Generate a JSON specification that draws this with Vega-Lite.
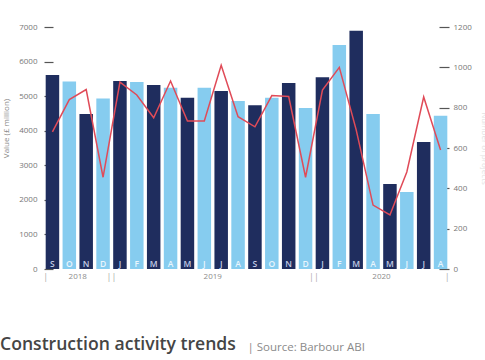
{
  "$schema": "https://vega.github.io/schema/vega-lite/v6.json",
  "width": 405,
  "height": 242,
  "autosize": {"type": "none"},
  "padding": {"left": 44, "top": 27, "right": 36, "bottom": 91},
  "background": "white",
  "config": {
    "view": {"stroke": null},
    "font": "Open Sans",
    "axisX": {
      "labelAngle": 0,
      "labelPadding": -10,
      "labelFontSize": 8.5,
      "labelFontWeight": 600,
      "labelOverlap": false,
      "domain": false,
      "ticks": false,
      "tickSize": 0,
      "grid": false,
      "titleX": 203,
      "titleY": 81,
      "titleAlign": "left",
      "titleAnchor": "start",
      "titleBaseline": "alphabetic",
      "titleFontSize": 11.5,
      "titleFontWeight": "normal",
      "titleColor": "#8a8a8a"
    },
    "axisLeft": {
      "labelOverlap": false,
      "offset": -9,
      "tickSize": 9,
      "tickColor": "#555",
      "tickWidth": 1.2,
      "domain": false,
      "grid": false,
      "labelFontSize": 8,
      "labelColor": "#777",
      "labelPadding": 7,
      "titleFontSize": 8,
      "titleFontWeight": "normal",
      "titleColor": "#888",
      "titleX": -43,
      "titleY": 101
    }
  },
  "title": {
    "text": "Construction activity trends",
    "orient": "bottom",
    "anchor": "start",
    "fontSize": 17.6,
    "fontWeight": 600,
    "color": "#454545",
    "font": "Open Sans",
    "baseline": "alphabetic",
    "offset": -3,
    "dx": -2
  },
  "datasets": {
    "main": [
      {"m": "2018-09", "value": 5610, "projects": 680},
      {"m": "2018-10", "value": 5420, "projects": 840},
      {"m": "2018-11", "value": 4480, "projects": 890},
      {"m": "2018-12", "value": 4930, "projects": 455},
      {"m": "2019-01", "value": 5440, "projects": 927},
      {"m": "2019-02", "value": 5410, "projects": 863},
      {"m": "2019-03", "value": 5320, "projects": 750},
      {"m": "2019-04", "value": 5240, "projects": 932},
      {"m": "2019-05", "value": 4950, "projects": 734},
      {"m": "2019-06", "value": 5240, "projects": 734},
      {"m": "2019-07", "value": 5150, "projects": 1010},
      {"m": "2019-08", "value": 4860, "projects": 755},
      {"m": "2019-09", "value": 4740, "projects": 705},
      {"m": "2019-10", "value": 4950, "projects": 860},
      {"m": "2019-11", "value": 5380, "projects": 855},
      {"m": "2019-12", "value": 4660, "projects": 455},
      {"m": "2020-01", "value": 5550, "projects": 887},
      {"m": "2020-02", "value": 6480, "projects": 1000},
      {"m": "2020-03", "value": 6890, "projects": 690},
      {"m": "2020-04", "value": 4480, "projects": 317},
      {"m": "2020-05", "value": 2460, "projects": 268},
      {"m": "2020-06", "value": 2230, "projects": 481},
      {"m": "2020-07", "value": 3670, "projects": 853},
      {"m": "2020-08", "value": 4430, "projects": 590}
    ],
    "years": [
      {"m": "2018-10", "label": "2018"},
      {"m": "2019-06", "label": "2019"},
      {"m": "2020-04", "label": "2020"}
    ],
    "sepStart": [{"m": "2018-09"}],
    "sepMid": [{"m": "2019-01"}, {"m": "2020-01"}],
    "sepEnd": [{"m": "2020-08"}]
  },
  "layer": [
    {
      "layer": [
        {
          "data": {"name": "main"},
          "mark": {"type": "bar"},
          "encoding": {
            "x": {
              "field": "m",
              "type": "ordinal",
              "scale": {"paddingInner": 0.2, "paddingOuter": 0.1},
              "axis": {
                "labelExpr": "['J','F','M','A','M','J','J','A','S','O','N','D'][parseInt(substring(datum.value,5,7))-1]",
                "labelColor": {"condition": {"test": "parseInt(substring(datum.value,5,7)) % 2 == 1", "value": "#c3cce6"}, "value": "#eaf6fd"},
                "zindex": 2,
                "title": "|  Source: Barbour ABI"
              }
            },
            "y": {
              "field": "value",
              "type": "quantitative",
              "scale": {"domain": [0, 7000], "nice": false},
              "axis": {
                "values": [0, 1000, 2000, 3000, 4000, 5000, 6000, 7000],
                "format": "d",
                "title": "Value (£ million)"
              }
            },
            "color": {
              "condition": {"test": "parseInt(substring(datum.m,5,7)) % 2 == 1", "value": "#1f2d5e"},
              "value": "#86ccef"
            }
          }
        },
        {
          "data": {"name": "years"},
          "mark": {"type": "text", "fontSize": 8, "color": "#8c8c8c", "baseline": "middle", "dy": 8},
          "encoding": {
            "x": {
              "field": "m",
              "type": "ordinal",
              "bandPosition": 1.125,
              "axis": {
                "labelExpr": "['J','F','M','A','M','J','J','A','S','O','N','D'][parseInt(substring(datum.value,5,7))-1]",
                "labelColor": {"condition": {"test": "parseInt(substring(datum.value,5,7)) % 2 == 1", "value": "#c3cce6"}, "value": "#eaf6fd"},
                "zindex": 2,
                "title": "|  Source: Barbour ABI"
              }
            },
            "y": {
              "datum": 0,
              "type": "quantitative",
              "axis": {
                "values": [0, 1000, 2000, 3000, 4000, 5000, 6000, 7000],
                "format": "d",
                "title": "Value (£ million)"
              }
            },
            "text": {"field": "label"}
          }
        },
        {
          "data": {"name": "sepStart"},
          "mark": {"type": "text", "fontSize": 9, "color": "#aaaaaa", "baseline": "middle", "dy": 8, "text": "|"},
          "encoding": {
            "x": {
              "field": "m",
              "type": "ordinal",
              "bandPosition": 0,
              "axis": {
                "labelExpr": "['J','F','M','A','M','J','J','A','S','O','N','D'][parseInt(substring(datum.value,5,7))-1]",
                "labelColor": {"condition": {"test": "parseInt(substring(datum.value,5,7)) % 2 == 1", "value": "#c3cce6"}, "value": "#eaf6fd"},
                "zindex": 2,
                "title": "|  Source: Barbour ABI"
              }
            },
            "y": {
              "datum": 0,
              "type": "quantitative",
              "axis": {
                "values": [0, 1000, 2000, 3000, 4000, 5000, 6000, 7000],
                "format": "d",
                "title": "Value (£ million)"
              }
            }
          }
        },
        {
          "data": {"name": "sepMid"},
          "mark": {"type": "text", "fontSize": 9, "color": "#aaaaaa", "baseline": "middle", "dy": 8, "text": "||"},
          "encoding": {
            "x": {
              "field": "m",
              "type": "ordinal",
              "bandPosition": -0.125,
              "axis": {
                "labelExpr": "['J','F','M','A','M','J','J','A','S','O','N','D'][parseInt(substring(datum.value,5,7))-1]",
                "labelColor": {"condition": {"test": "parseInt(substring(datum.value,5,7)) % 2 == 1", "value": "#c3cce6"}, "value": "#eaf6fd"},
                "zindex": 2,
                "title": "|  Source: Barbour ABI"
              }
            },
            "y": {
              "datum": 0,
              "type": "quantitative",
              "axis": {
                "values": [0, 1000, 2000, 3000, 4000, 5000, 6000, 7000],
                "format": "d",
                "title": "Value (£ million)"
              }
            }
          }
        },
        {
          "data": {"name": "sepEnd"},
          "mark": {"type": "text", "fontSize": 9, "color": "#aaaaaa", "baseline": "middle", "dy": 8, "text": "|"},
          "encoding": {
            "x": {
              "field": "m",
              "type": "ordinal",
              "bandPosition": 1,
              "axis": {
                "labelExpr": "['J','F','M','A','M','J','J','A','S','O','N','D'][parseInt(substring(datum.value,5,7))-1]",
                "labelColor": {"condition": {"test": "parseInt(substring(datum.value,5,7)) % 2 == 1", "value": "#c3cce6"}, "value": "#eaf6fd"},
                "zindex": 2,
                "title": "|  Source: Barbour ABI"
              }
            },
            "y": {
              "datum": 0,
              "type": "quantitative",
              "axis": {
                "values": [0, 1000, 2000, 3000, 4000, 5000, 6000, 7000],
                "format": "d",
                "title": "Value (£ million)"
              }
            }
          }
        }
      ]
    },
    {
      "data": {"name": "main"},
      "mark": {"type": "line", "color": "#e04b58", "strokeWidth": 1.5},
      "encoding": {
        "x": {
          "field": "m",
          "type": "ordinal",
          "axis": {
            "labelExpr": "['J','F','M','A','M','J','J','A','S','O','N','D'][parseInt(substring(datum.value,5,7))-1]",
            "labelColor": {"condition": {"test": "parseInt(substring(datum.value,5,7)) % 2 == 1", "value": "#c3cce6"}, "value": "#eaf6fd"},
            "zindex": 2,
            "title": "|  Source: Barbour ABI"
          }
        },
        "y": {
          "field": "projects",
          "type": "quantitative",
          "scale": {"domain": [0, 1200], "nice": false},
          "axis": {
            "orient": "right",
            "values": [0, 200, 400, 600, 800, 1000, 1200],
            "format": "d",
            "labelOverlap": false,
            "offset": -10,
            "tickSize": 10,
            "tickColor": "#555",
            "tickWidth": 1.2,
            "domain": false,
            "grid": false,
            "labelFontSize": 8,
            "labelColor": "#777",
            "labelPadding": 4,
            "title": "Number of projects",
            "titleFontSize": 8,
            "titleFontWeight": "normal",
            "titleColor": "#e2e2e2",
            "titlePadding": 8
          }
        }
      }
    }
  ],
  "resolve": {"scale": {"y": "independent"}}
}
